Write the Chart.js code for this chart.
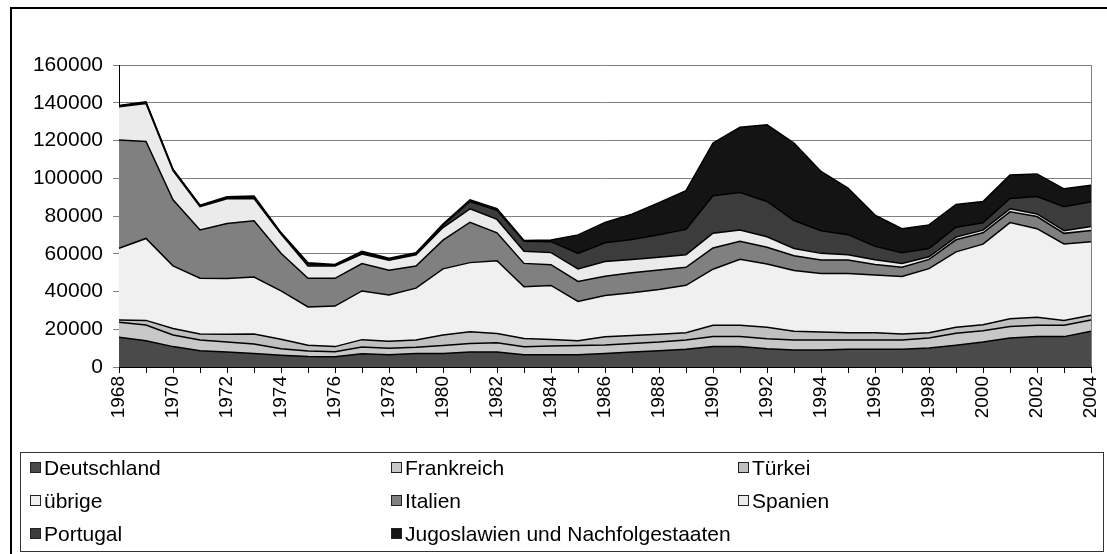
<!DOCTYPE html>
<html>
<head>
<meta charset="utf-8">
<script src="https://cdn.jsdelivr.net/npm/chart.js@4.4.1/dist/chart.umd.min.js"></script>
<style>
  body { margin: 0; background: #fff; font-family: "Liberation Sans", Arial, sans-serif; overflow: hidden; }
  #frame { position: absolute; left: 10px; top: 7px; width: 1200px; height: 700px; border-left: 2px solid #000; border-top: 2px solid #000; }
  #chart { position: absolute; left: 0; top: 0; }
  #legend { position: absolute; left: 20px; top: 452px; width: 1082px; height: 98px; border: 1px solid #333; }
  .item { position: absolute; font-size: 21px; line-height: 24px; color: #000; white-space: nowrap; }
  .item span.box { display: inline-block; width: 9px; height: 9px; border: 1px solid #222; margin-right: 3px; vertical-align: 2px; }
</style>
</head>
<body>
<div id="frame"></div>
<canvas id="chart" width="1107" height="554"></canvas>
<div id="legend"></div>
<script>
// Jahre
const years = [1968,1969,1970,1971,1972,1973,1974,1975,1976,1977,1978,1979,1980,1981,1982,1983,1984,1985,1986,1987,1988,1989,1990,1991,1992,1993,1994,1995,1996,1997,1998,1999,2000,2001,2002,2003,2004];

// Werte je Herkunft (gestapelt, von unten nach oben)
const deutschland = [15700,13900,10800,8600,7900,7200,6200,5500,5400,7000,6500,7200,7200,7900,7900,6500,6500,6500,7200,7900,8600,9400,10800,10800,9700,9000,9000,9400,9400,9400,10100,11500,13200,15400,16100,16100,18900];
const frankreich = [8000,8300,6200,5700,5300,5000,3500,3000,2700,3600,3500,3200,4200,4600,5000,4200,4600,4900,4400,4600,4600,4900,5300,5300,5300,5300,5300,4900,4900,4900,5300,6400,6000,6000,6000,6000,6000];
const tuerkei = [1200,2500,3400,3200,4200,5300,5000,3000,2700,3900,3700,3900,5600,6200,4900,4400,3500,2500,4400,4200,4200,3900,6000,6000,6000,4600,4200,3900,3900,3200,2800,3200,3200,4200,4200,2500,2500];
const uebrige = [38000,43400,33200,29500,29500,30200,25600,20300,21500,25800,24500,27500,35000,36600,38500,27400,28600,20800,21900,22600,23700,25100,29700,35000,33600,32200,31100,31400,30600,30400,33900,39900,42700,50900,47000,40600,38900];
const italien = [57400,51400,35000,25600,29100,29800,20000,15200,14700,14500,13100,11700,15200,21400,14800,12400,11000,10600,10200,10600,10300,9500,11300,9500,8800,7800,7100,7100,5500,4900,4900,6400,6000,5700,6400,5600,6000];
const spanien = [17600,20100,15500,12400,13100,11700,10200,6500,6500,5000,5300,6000,6700,7100,7100,6400,6400,6700,7800,7100,6700,6700,7800,6000,5600,3900,3500,2800,2500,2100,1400,1400,1400,1600,1400,1400,2100];
const portugal = [400,500,400,400,600,800,400,1000,500,900,600,600,1200,3900,4800,5300,5800,8100,9900,10600,12000,13400,19800,19800,18700,14800,12000,10600,7100,5700,4400,5300,3900,5500,9200,12700,13100];
const jugoslawien = [300,400,300,300,450,600,300,700,300,600,400,400,600,900,900,400,900,9900,10800,13400,17000,20500,27900,34600,40600,41000,31400,24700,16600,12700,12500,12000,11300,12400,12000,9500,8800];

const seriesNames = ["Deutschland","Frankreich","Türkei","übrige","Italien","Spanien","Portugal","Jugoslawien und Nachfolgestaaten"];
const seriesData = [deutschland, frankreich, tuerkei, uebrige, italien, spanien, portugal, jugoslawien];
const seriesColors = ["#4a4a4a","#c8c8c8","#c0c0c0","#f0f0f0","#808080","#ebebeb","#3c3c3c","#141414"];

const yTicks = [0,20000,40000,60000,80000,100000,120000,140000,160000];

Chart.defaults.font.family = '"Liberation Sans", Arial, sans-serif';
Chart.defaults.color = '#000';

const datasets = seriesNames.map((name, i) => ({
    label: name,
    data: seriesData[i],
    backgroundColor: seriesColors[i],
    borderColor: '#000',
    borderWidth: 1.5,
    fill: i === 0 ? 'origin' : '-1',
    pointRadius: 0,
    tension: 0
}));

// rechter Rand der Zeichenfläche
const plotBorder = {
    id: 'plotBorder',
    afterDraw(chart) {
        const a = chart.chartArea;
        const ctx = chart.ctx;
        ctx.save();
        ctx.strokeStyle = '#808080';
        ctx.lineWidth = 1;
        ctx.beginPath();
        ctx.moveTo(Math.round(a.right) + 0.5, a.top);
        ctx.lineTo(Math.round(a.right) + 0.5, a.bottom);
        ctx.stroke();
        ctx.restore();
    }
};

new Chart(document.getElementById('chart'), {
    type: 'line',
    data: { labels: years, datasets: datasets },
    plugins: [plotBorder],
    options: {
        responsive: false,
        animation: false,
        layout: { padding: { top: 65, right: 16, bottom: 102, left: 0 } },
        plugins: { legend: { display: false }, tooltip: { enabled: false } },
        scales: {
            x: {
                offset: false,
                grid: { drawOnChartArea: false, drawTicks: true, tickLength: 6, color: '#000' },
                border: { display: true, color: '#000', width: 1 },
                ticks: {
                    autoSkip: false,
                    maxRotation: 90,
                    minRotation: 90,
                    padding: 3,
                    font: { size: 19 },
                    callback: function(v, i) { return i % 2 === 0 ? this.getLabelForValue(v) : ''; }
                },
                afterFit: s => { s.height = 85; s.paddingLeft = 0; s.paddingRight = 0; }
            },
            y: {
                stacked: true,
                min: 0,
                max: 160000,
                afterBuildTicks: s => { s.ticks = yTicks.map(v => ({ value: v })); },
                grid: { color: '#808080', tickLength: 6, drawTicks: true },
                border: { display: true, color: '#000', width: 1 },
                ticks: { padding: 10, font: { size: 21 }, callback: v => String(v) },
                afterFit: s => { s.width = 119; }
            }
        }
    }
});

// Legende als Text
const legend = document.getElementById('legend');
const colX = [9, 370, 717];
const rowY = [3, 36, 69];
seriesNames.forEach((name, i) => {
    const el = document.createElement('div');
    el.className = 'item';
    el.style.left = colX[i % 3] + 'px';
    el.style.top = rowY[Math.floor(i / 3)] + 'px';
    const box = document.createElement('span');
    box.className = 'box';
    box.style.background = seriesColors[i];
    el.appendChild(box);
    el.appendChild(document.createTextNode(name));
    legend.appendChild(el);
});
</script>
</body>
</html>
